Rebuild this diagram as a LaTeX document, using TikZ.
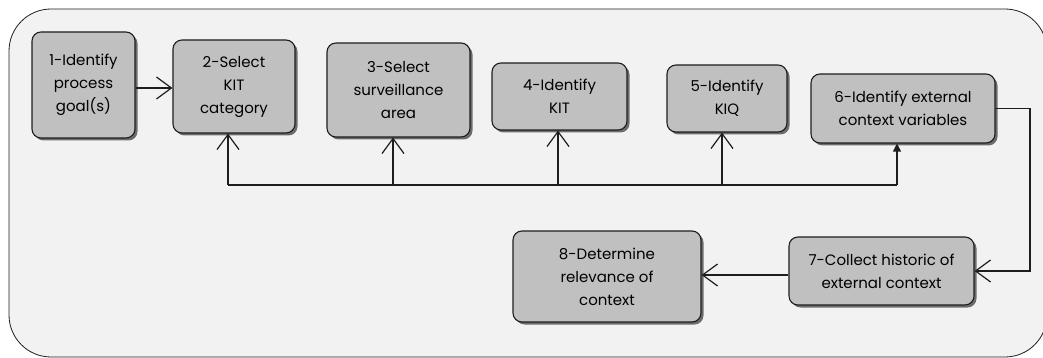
\documentclass[tikz,border=0pt]{standalone}
\usepackage{fontspec}
\setmainfont{Poppins}
\usetikzlibrary{arrows.meta,shadows}
\definecolor{boxgray}{RGB}{192,192,192}
\definecolor{framegray}{RGB}{242,242,242}
\definecolor{inkc}{RGB}{30,30,30}
\begin{document}
\begin{tikzpicture}[x=1pt,y=-1pt,
  stepbox/.style={draw=inkc, line width=1.1pt, fill=boxgray, rounded corners=9pt,
    align=center, inner sep=0pt, font=\fontsize{15}{23}\selectfont,
    drop shadow={shadow xshift=2.5pt, shadow yshift=-2.5pt, opacity=0.75, fill=black!75}},
  conn/.style={draw=inkc, line width=1.2pt},
  barb/.style={conn, -{Straight Barb[length=15pt, width=22pt, line width=1.2pt]}},
  tri/.style={conn, -{Triangle[length=8pt, width=8pt]}}
]
\useasboundingbox (0,0) rectangle (1043,358);
% outer frame
\path[fill=framegray, draw=inkc, line width=0.8pt, rounded corners=42pt] (9,9) rectangle (1047,357);

% steps
\node[stepbox, minimum width=103pt, minimum height=106pt] (n1) at (83.5,85) {1-Identify\\process\\goal(s)};
\node[stepbox, minimum width=122pt, minimum height=93pt] (n2) at (234,86.5) {2-Select\\KIT\\category};
\node[stepbox, minimum width=143pt, minimum height=94pt] (n3) at (398.5,90) {3-Select\\surveillance\\area};
\node[stepbox, minimum width=135pt, minimum height=67pt] (n4) at (559.5,96.5) {4-Identify\\KIT};
\node[stepbox, minimum width=120pt, minimum height=67pt] (n5) at (727,98.5) {5-Identify\\KIQ};
\node[stepbox, minimum width=184pt, minimum height=69pt] (n6) at (903,108.5) {6-Identify external\\context variables};
\node[stepbox, minimum width=185pt, minimum height=68pt] (n7) at (881.5,271) {7-Collect historic of\\external context};
\node[stepbox, minimum width=188pt, minimum height=91pt] (n8) at (607,276.5) {8-Determine\\relevance of\\context};

% bus coordinates
\coordinate (b2) at (228,185);
\coordinate (b3) at (393,185);
\coordinate (b4) at (558,185);
\coordinate (b5) at (722,185);
\coordinate (b6) at (897,185);
\coordinate (a12) at (0,88);
\coordinate (x67) at (1030,0);
\coordinate (a78) at (0,275);

% connectors
\draw[barb] (n1.east |- a12) -- (n2.west |- a12);
\draw[conn] (b2) -- (b6);
\draw[barb] (b2) -- (b2 |- n2.south);
\draw[barb] (b3) -- (b3 |- n3.south);
\draw[barb] (b4) -- (b4 |- n4.south);
\draw[barb] (b5) -- (b5 |- n5.south);
\draw[tri] (b6) -- (b6 |- n6.south);
\draw[barb] (n6.east) -| (x67 |- n7.east) -- (n7.east);
\draw[barb] (n7.west |- a78) -- (n8.east |- a78);
\end{tikzpicture}
\end{document}
